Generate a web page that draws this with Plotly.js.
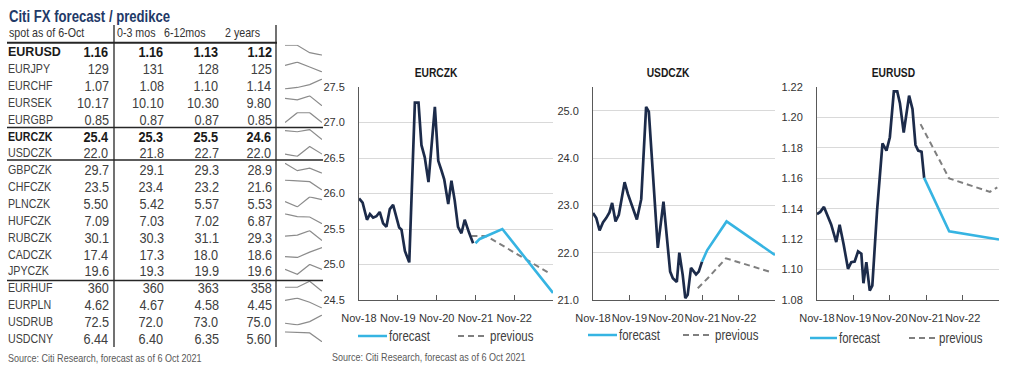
<!DOCTYPE html>
<html><head><meta charset="utf-8">
<script src="https://cdn.plot.ly/plotly-3.0.1.min.js"></script>
<style>html,body{margin:0;padding:0;background:#fff}#chart{width:1024px;height:381px}</style>
</head><body><div id="chart"></div>
<script>
// ---------- table data ----------
const pairs = ['EURUSD','EURJPY','EURCHF','EURSEK','EURGBP','EURCZK','USDCZK','GBPCZK','CHFCZK','PLNCZK','HUFCZK','RUBCZK','CADCZK','JPYCZK','EURHUF','EURPLN','USDRUB','USDCNY'];
const spot = [1.16,129,1.07,10.17,0.85,25.4,22.0,29.7,23.5,5.50,7.09,30.1,17.4,19.6,360,4.62,72.5,6.44];
const m0to3 = [1.16,131,1.08,10.10,0.87,25.3,21.8,29.1,23.4,5.42,7.03,30.3,17.3,19.3,360,4.67,72.0,6.40];
const m6to12 = [1.13,128,1.10,10.30,0.87,25.5,22.7,29.3,23.2,5.57,7.02,31.1,18.0,19.9,363,4.58,73.0,6.35];
const y2 = [1.12,125,1.14,9.80,0.85,24.6,22.0,28.9,21.6,5.53,6.87,29.3,18.6,19.6,358,4.45,75.0,5.60];
const decimals = [2,0,2,2,2,1,1,1,1,2,2,1,1,1,0,2,1,2];
const boldRows = ['EURUSD','EURCZK'];
const headers = ['spot as of 6-Oct','0-3 mos','6-12mos','2 years'];
const horizons = [0,1,2,3];
const tableTitle = 'Citi FX forecast / predikce';
const sourceText = 'Source: Citi Research, forecast as of 6 Oct 2021';

// ---------- chart data ----------
const xTickVals = ['2018-11-01','2019-11-01','2020-11-01','2021-11-01','2022-11-01','2023-11-01'];
const xTickText = ['Nov-18','Nov-19','Nov-20','Nov-21','Nov-22',''];

const eurczkHistDates = ['2018-11-01','2018-12-05','2019-01-15','2019-02-12','2019-03-14','2019-04-14','2019-05-15','2019-06-16','2019-07-17','2019-08-18','2019-09-18','2019-10-20','2019-11-14','2019-12-06','2020-01-07','2020-02-17','2020-04-10','2020-05-14','2020-06-11','2020-07-12','2020-08-16','2020-10-15','2020-11-16','2020-12-17','2021-01-11','2021-02-18','2021-03-20','2021-04-20','2021-05-21','2021-06-22','2021-07-23','2021-08-30','2021-10-10'];
const eurczkHist = [25.93,25.87,25.63,25.71,25.66,25.68,25.74,25.58,25.53,25.78,25.84,25.65,25.52,25.49,25.19,25.03,27.28,27.28,26.68,26.51,26.16,27.22,26.46,26.32,26.20,25.85,26.18,25.90,25.53,25.44,25.63,25.46,25.30];
const eurczkFcDates = ['2021-11-01','2021-12-12','2022-07-12','2023-11-01'];
const eurczkFc = [25.30,25.36,25.50,24.60];
const eurczkPrevDates = ['2021-09-24','2022-02-13','2023-09-14'];
const eurczkPrev = [25.40,25.40,24.89];

const usdczkHistDates = ['2018-11-01','2018-12-04','2019-01-06','2019-02-09','2019-03-13','2019-04-15','2019-05-12','2019-06-15','2019-07-18','2019-09-14','2019-10-17','2019-11-29','2020-01-15','2020-02-28','2020-04-17','2020-05-14','2020-06-23','2020-08-12','2020-10-08','2020-12-14','2021-01-10','2021-02-19','2021-03-16','2021-04-19','2021-05-15','2021-06-08','2021-07-11','2021-08-31','2021-09-27','2021-10-30'];
const usdczkHist = [22.84,22.73,22.47,22.64,22.73,22.85,23.05,22.66,22.80,23.49,23.24,22.99,22.70,23.13,25.08,24.98,23.76,22.10,23.08,21.60,21.46,21.38,22.00,21.53,21.04,21.11,21.68,21.54,21.60,21.81];
const usdczkFcDates = ['2021-10-30','2021-12-20','2022-07-03','2023-11-01'];
const usdczkFc = [21.81,22.05,22.66,21.95];
const usdczkPrevDates = ['2021-09-17','2021-12-26','2022-06-27','2023-09-04'];
const usdczkPrev = [21.25,21.46,21.88,21.60];

const eurusdHistDates = ['2018-11-01','2018-12-04','2019-01-10','2019-02-19','2019-03-23','2019-05-13','2019-06-16','2019-07-25','2019-09-08','2019-10-11','2019-11-14','2019-12-18','2020-01-20','2020-02-10','2020-03-10','2020-04-13','2020-05-09','2020-06-26','2020-08-19','2020-09-28','2020-11-01','2020-12-11','2021-01-14','2021-02-10','2021-03-20','2021-05-13','2021-06-16','2021-07-16','2021-08-12','2021-09-15','2021-10-11'];
const eurusdHist = [1.1364,1.1379,1.1412,1.1346,1.1297,1.1181,1.1295,1.1170,1.1005,1.1049,1.1053,1.1119,1.1104,1.0910,1.1049,1.0862,1.0895,1.1390,1.1830,1.1782,1.1870,1.2171,1.2171,1.2094,1.1901,1.2143,1.2055,1.1819,1.1782,1.1775,1.1603];
const eurusdFcDates = ['2021-10-11','2021-12-08','2022-06-19','2023-11-01'];
const eurusdFc = [1.1603,1.1522,1.1251,1.1198];
const eurusdPrevDates = ['2021-09-05','2021-11-21','2022-03-17','2022-06-19','2023-08-02','2023-10-15'];
const eurusdPrev = [1.1956,1.1863,1.1720,1.1599,1.1511,1.1540];

const chartTitles = ['EURCZK','USDCZK','EURUSD'];
const legendNames = ['forecast','previous'];

// ---------- style ----------
const W = 1024, H = 381;
const px = x => x / W;
const py = y => 1 - y / H;
const ARIAL = "'Liberation Sans',Arial,sans-serif";
const NARROW_SCALE = 0.82;   // Arial Narrow look: Arial glyphs condensed
const C_HIST = '#1c2b4a', C_FC = '#36b4e2', C_PREV = '#7f7f7f';
const TXT = '#333333', AX = '#595959', GRID = '#d9d9d9';

const traces = [];
const layout = {
  width: W, height: H, margin: {l:0,r:0,t:0,b:0},
  paper_bgcolor: '#fff', plot_bgcolor: 'rgba(0,0,0,0)',
  showlegend: false, annotations: [], shapes: []
};
const ann = layout.annotations;
const narrowIdx = new Set();
function addText(text, x, y, anchor, font, narrow) {
  if (narrow) narrowIdx.add(ann.length);
  ann.push({xref:'paper', yref:'paper', x: px(x), y: py(y), xanchor: anchor, yanchor: 'middle', align: anchor,
    text: text, showarrow: false, borderpad: 0, font: font});
}

// ---------- charts ----------
const charts = [
  {hd: eurczkHistDates, h: eurczkHist, fd: eurczkFcDates, f: eurczkFc, pd: eurczkPrevDates, p: eurczkPrev,
   x0: 359, x1: 553, yr: [24.5, 27.5], dtick: 0.5, fmt: '.1f', titleX: 436, legX: [358,387,458,487], legY: 336},
  {hd: usdczkHistDates, h: usdczkHist, fd: usdczkFcDates, f: usdczkFc, pd: usdczkPrevDates, p: usdczkPrev,
   x0: 593, x1: 775, yr: [21, 25.5], dtick: 1, fmt: '.1f', titleX: 668, legX: [588,617,683,712], legY: 335},
  {hd: eurusdHistDates, h: eurusdHist, fd: eurusdFcDates, f: eurusdFc, pd: eurusdPrevDates, p: eurusdPrev,
   x0: 817, x1: 999, yr: [1.08, 1.22], dtick: 0.02, fmt: '.2f', titleX: 893, legX: [810,837,909,936], legY: 338}
];
const plotTop = 87, plotBot = 300;
charts.forEach((c, i) => {
  const n = i + 1, xa = 'x' + n, ya = 'y' + n;
  const xk = 'xaxis' + (n === 1 ? '' : n), yk = 'yaxis' + (n === 1 ? '' : n);
  traces.push({x: c.pd, y: c.p, xaxis: xa, yaxis: ya, mode: 'lines', line: {color: C_PREV, width: 2, dash: '6px,4px'}, hoverinfo: 'skip'});
  traces.push({x: c.hd, y: c.h, xaxis: xa, yaxis: ya, mode: 'lines', line: {color: C_HIST, width: 2.7}, hoverinfo: 'skip'});
  traces.push({x: c.fd, y: c.f, xaxis: xa, yaxis: ya, mode: 'lines', line: {color: C_FC, width: 2.6}, hoverinfo: 'skip'});
  layout[xk] = {
    domain: [px(c.x0), px(c.x1)], anchor: ya, type: 'date', range: ['2018-11-01','2023-11-01'],
    tickmode: 'array', tickvals: xTickVals, ticktext: xTickText, tickangle: 0,
    ticks: 'inside', ticklen: 5, tickcolor: AX, tickwidth: 1,
    showline: true, linecolor: AX, linewidth: 1, showgrid: false, zeroline: false,
    tickfont: {family: ARIAL, size: 11, color: TXT}, ticklabelstandoff: 8, fixedrange: true
  };
  layout[yk] = {
    domain: [py(plotBot), py(plotTop)], anchor: xa, range: c.yr, dtick: c.dtick, tick0: c.yr[0], tickformat: c.fmt,
    showline: true, linecolor: AX, linewidth: 1, showgrid: true, gridcolor: GRID, gridwidth: 1, zeroline: false,
    ticks: '', tickfont: {family: ARIAL, size: 11, color: TXT}, ticklabelstandoff: 11, fixedrange: true
  };
  addText(chartTitles[i], c.titleX, 73, 'center', {family: ARIAL, size: 12.5, weight: 'bold', color: '#1a1a1a'}, true);
  // legend
  const [a0, a1, b0, b1] = c.legX;
  layout.shapes.push({type:'line', xref:'paper', yref:'paper', x0: px(a0), x1: px(a1), y0: py(c.legY), y1: py(c.legY), line: {color: C_FC, width: 2.5}});
  layout.shapes.push({type:'line', xref:'paper', yref:'paper', x0: px(b0), x1: px(b1), y0: py(c.legY), y1: py(c.legY), line: {color: C_PREV, width: 2, dash: '6px,4px'}});
  addText(legendNames[0], a1 + 1, c.legY, 'left', {family: ARIAL, size: 14, color: '#404040'}, true);
  addText(legendNames[1], b1 + 2, c.legY, 'left', {family: ARIAL, size: 14, color: '#404040'}, true);
});
addText(sourceText, 331, 357, 'left', {family: ARIAL, size: 11, color: '#595959'}, true);

// ---------- table ----------
const rowY0 = 51.7, rowStep = 16.86;
const colRight = [110, 165, 220, 273];
const cols = [spot, m0to3, m6to12, y2];
addText(tableTitle, 8, 16, 'left', {family: ARIAL, size: 16, weight: 'bold', color: '#1f3a68'}, true);
const headerX = [8, 116, 163, 224];
headers.forEach((h, j) => addText(h, headerX[j], 33, 'left', {family: ARIAL, size: 13, color: TXT}, true));
pairs.forEach((p, i) => {
  const y = rowY0 + i * rowStep;
  const bold = boldRows.includes(p);
  const w = bold ? 'bold' : 'normal';
  const col = bold ? '#1a1a1a' : '#404040';
  if (i === 0) addText(p, 7, y, 'left', {family: ARIAL, size: 12.5, weight: w, color: col}, false);
  else addText(p, 7, y, 'left', {family: ARIAL, size: 13, weight: w, color: col}, true);
  cols.forEach((arr, j) => {
    addText(arr[i].toFixed(decimals[i]), colRight[j], y, 'right', {family: ARIAL, size: 15.5, weight: w, color: col}, true);
  });
  // sparkline
  const n = 4 + i;
  traces.push({x: horizons, y: cols.map(a => a[i]), xaxis: 'x' + n, yaxis: 'y' + n, mode: 'lines',
    line: {color: '#8c8c8c', width: 1.2}, hoverinfo: 'skip'});
  layout['xaxis' + n] = {domain: [px(285), px(322)], range: [0, 3], visible: false, anchor: 'y' + n, fixedrange: true};
  layout['yaxis' + n] = {domain: [py(y + 4), py(y - 7)], autorange: true, visible: false, anchor: 'x' + n, fixedrange: true};
});
addText(sourceText, 7, 358, 'left', {family: ARIAL, size: 11, color: '#595959'}, true);

// table rules
const hl = (y, x0, x1, w) => layout.shapes.push({type:'line', xref:'paper', yref:'paper', x0: px(x0), x1: px(x1), y0: py(y), y1: py(y), line:{color:'#262626', width:w}});
const vl = (x, y0, y1, w) => layout.shapes.push({type:'line', xref:'paper', yref:'paper', x0: px(x), x1: px(x), y0: py(y0), y1: py(y1), line:{color:'#262626', width:w}});
hl(42.7, 7, 277, 2);
hl(127.5, 7, 323, 1.5);
hl(160, 7, 323, 1.5);
hl(280.5, 7, 323, 1.5);
vl(114, 25, 347, 1.3);
vl(276, 25, 347, 1.3);

Plotly.newPlot('chart', traces, layout, {staticPlot: true, displayModeBar: false}).then(gd => {
  gd.querySelectorAll('g.annotation').forEach(g => {
    const idx = +g.getAttribute('data-index');
    if (!narrowIdx.has(idx)) return;
    const t = g.querySelector('text.annotation-text');
    if (!t) return;
    const L = t.getComputedTextLength();
    t.setAttribute('textLength', (L * NARROW_SCALE).toFixed(2));
    t.setAttribute('lengthAdjust', 'spacingAndGlyphs');
  });
});
</script>
</body></html>
